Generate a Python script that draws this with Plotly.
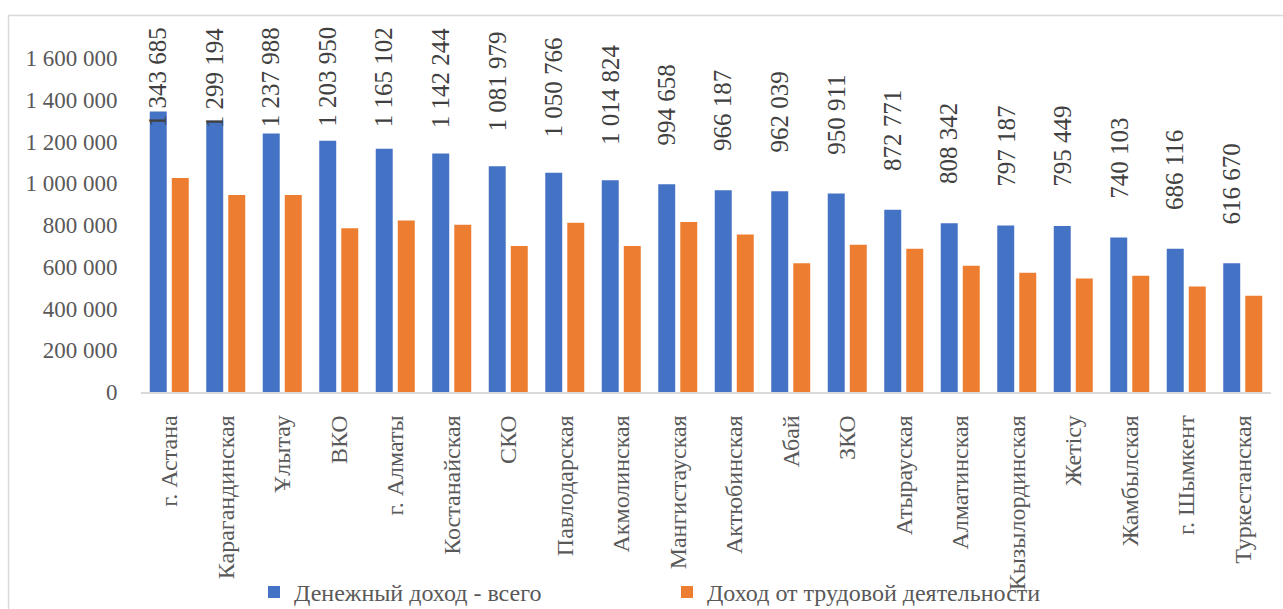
import plotly.graph_objects as go

categories = ["г. Астана", "Карагандинская", "Ұлытау", "ВКО", "г. Алматы", "Костанайская",
              "СКО", "Павлодарская", "Акмолинская", "Мангистауская", "Актюбинская", "Абай",
              "ЗКО", "Атырауская", "Алматинская", "Кызылординская", "Жетісу", "Жамбылская",
              "г. Шымкент", "Туркестанская"]
total_income = [1343685, 1299194, 1237988, 1203950, 1165102, 1142244, 1081979, 1050766,
                1014824, 994658, 966187, 962039, 950911, 872771, 808342, 797187, 795449,
                740103, 686116, 616670]
labor_income = [1025000, 944000, 944000, 784000, 822000, 801000, 699000, 811000,
                700000, 814000, 755000, 617000, 705000, 686000, 605000, 571000, 544000,
                557000, 505000, 461000]
y_ticks = [0, 200000, 400000, 600000, 800000, 1000000, 1200000, 1400000, 1600000]
series_names = ["Денежный доход - всего", "Доход от трудовой деятельности"]

W, H = 1283, 609
ML, MR, MT, MB = 141, 12, 58, 217
PW = W - ML - MR
PH = H - MT - MB
YMAX = 1600000
FONT = "Liberation Serif"
LABEL_SIZE = 25


def fmt(v):
    return f"{v:,}".replace(",", " ")


fig = go.Figure()
fig.add_trace(go.Bar(x=categories, y=total_income, name=series_names[0],
                     marker=dict(color="#4472C4", line=dict(width=0))))
fig.add_trace(go.Bar(x=categories, y=labor_income, name=series_names[1],
                     marker=dict(color="#ED7D31", line=dict(width=0))))

# data labels above the blue bars, kept inside the chart area at the top
scale = PH / YMAX
top_limit_px = (H - MB) - 25  # label top may not go above 25 px from page top
annotations = []
for c, v in zip(categories, total_income):
    txt = fmt(v)
    length = (sum(0.5 if ch.isdigit() else 0.25 for ch in txt)) * LABEL_SIZE
    gap = 33 if len(txt) > 7 else 37
    common = dict(x=c, xref="x", text=txt, textangle=-90, showarrow=False,
                  xshift=-11, font=dict(family=FONT, size=LABEL_SIZE, color="#404040"))
    if v * scale + gap + length > top_limit_px:
        annotations.append(dict(y=top_limit_px / PH, yref="paper", yanchor="top", **common))
    else:
        annotations.append(dict(y=v, yref="y", yanchor="bottom", yshift=gap, **common))

fig.update_layout(
    width=W, height=H,
    margin=dict(l=ML, r=MR, t=MT, b=MB, autoexpand=False),
    paper_bgcolor="white", plot_bgcolor="white",
    barmode="group", bargap=0.22, bargroupgap=0.23,
    font=dict(family=FONT, size=24, color="#595959"),
    separators=". ",
    showlegend=True,
    legend=dict(orientation="h", x=(254 - ML) / PW, xanchor="left", y=-0.6, yanchor="middle",
                font=dict(family=FONT, size=24, color="#595959"),
                entrywidth=368, entrywidthmode="pixels", itemwidth=30,
                bgcolor="rgba(0,0,0,0)"),
    annotations=annotations,
    shapes=[dict(type="rect", xref="paper", yref="paper",
                 x0=(8.5 - ML) / PW, x1=(W + 20 - ML) / PW,
                 y0=-(MB + 20) / PH, y1=(H - MB - 15.5) / PH,
                 line=dict(color="#d9d9d9", width=1.5), fillcolor="rgba(0,0,0,0)", layer="below")],
    xaxis=dict(showline=True, linecolor="#d9d9d9", linewidth=1.5, tickangle=-90,
               ticks="outside", ticklen=12, tickcolor="rgba(0,0,0,0)", automargin=False,
               tickfont=dict(family=FONT, size=24, color="#595959"), showgrid=False,
               fixedrange=True),
    yaxis=dict(range=[0, YMAX], tickvals=y_ticks, tickformat=",d", showgrid=False,
               showline=False, zeroline=False, ticks="outside", ticklen=18,
               tickcolor="rgba(0,0,0,0)", automargin=False,
               tickfont=dict(family=FONT, size=23, color="#595959"), fixedrange=True),
)

fig.write_html("out.html", config={"displayModeBar": False},
               post_script="document.body.style.margin='0';document.body.style.overflow='hidden';")
